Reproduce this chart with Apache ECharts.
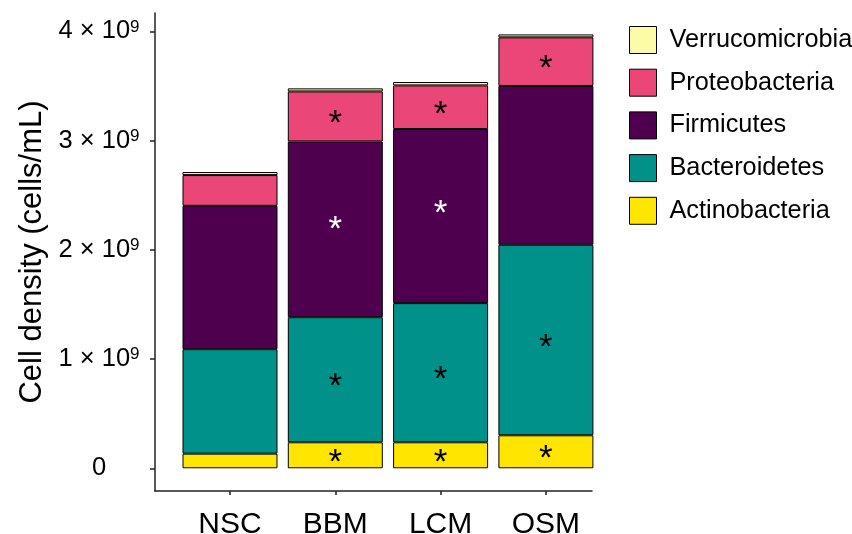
<!DOCTYPE html>
<html>
<head>
<meta charset="utf-8">
<title>Cell density by phylum</title>
<script src="https://cdn.jsdelivr.net/npm/echarts@6/dist/echarts.min.js"></script>
<style>
  html, body { margin: 0; padding: 0; background: #ffffff; }
  #chart { width: 852px; height: 534px; }
</style>
</head>
<body>
<div id="chart"></div>
<script>
// Media groups along the x axis
const categories = ['NSC', 'BBM', 'LCM', 'OSM'];

// Cell density per phylum (cells/mL), stacked bottom to top
const actinobacteria  = [0.134e9, 0.238e9, 0.238e9, 0.302e9];
const bacteroidetes   = [0.956e9, 1.145e9, 1.274e9, 1.744e9];
const firmicutes      = [1.313e9, 1.609e9, 1.594e9, 1.454e9];
const proteobacteria  = [0.281e9, 0.458e9, 0.399e9, 0.445e9];
const verrucomicrobia = [0.028e9, 0.028e9, 0.031e9, 0.027e9];

// Significance flags (drawn as asterisks inside the segment)
const sigActinobacteria  = [false, true, true, true];
const sigBacteroidetes   = [false, true, true, true];
const sigFirmicutes      = [false, true, true, false];
const sigProteobacteria  = [false, true, true, true];
const sigVerrucomicrobia = [false, false, false, false];

// Y axis ticks
const yTicks = [0, 1e9, 2e9, 3e9, 4e9];
const Y_MIN = -0.208e9;
const Y_MAX = 4.168e9;

const FONT = 'Liberation Sans, Arial, Helvetica, sans-serif';

const phyla = [
  { name: 'Actinobacteria',  values: actinobacteria,  sig: sigActinobacteria,  color: '#FFE500', star: '#000000' },
  { name: 'Bacteroidetes',   values: bacteroidetes,   sig: sigBacteroidetes,   color: '#00918A', star: '#000000' },
  { name: 'Firmicutes',      values: firmicutes,      sig: sigFirmicutes,      color: '#4E004F', star: '#ffffff' },
  { name: 'Proteobacteria',  values: proteobacteria,  sig: sigProteobacteria,  color: '#EA4778', star: '#000000' },
  { name: 'Verrucomicrobia', values: verrucomicrobia, sig: sigVerrucomicrobia, color: '#FBFBA8', star: '#000000' }
];

// Asterisk glyph sits high in its text box, so nudge it down; the white
// Firmicutes marks sit a little above the segment middle.
const STAR_DY = 8;
const firmStarDy = [0, 1, -2, 0];

const series = phyla.map(p => ({
  name: p.name,
  type: 'bar',
  stack: 'total',
  xAxisIndex: 1,
  yAxisIndex: 1,
  barWidth: 95,
  itemStyle: { color: p.color, borderColor: '#000000', borderWidth: 1 },
  emphasis: { disabled: true },
  data: p.values.map((v, i) => ({
    value: v,
    label: {
      show: p.sig[i],
      position: 'inside',
      formatter: '*',
      color: p.star,
      fontSize: 35,
      fontFamily: FONT,
      offset: [0, p.name === 'Firmicutes' ? firmStarDy[i] : STAR_DY]
    }
  }))
}));

const chart = echarts.init(document.getElementById('chart'), null, { renderer: 'canvas' });

chart.setOption({
  backgroundColor: '#ffffff',
  animation: false,
  grid: [
    // frame grid: axis lines, y ticks and title
    { left: 155, right: 260, top: 13, bottom: 43, containLabel: false, outerBoundsMode: 'none' },
    // bar grid: categories spaced to the panel
    { left: 177.35, width: 421.2, top: 13, bottom: 43, containLabel: false, outerBoundsMode: 'none' }
  ],
  legend: {
    orient: 'vertical',
    left: 629,
    top: 26,
    padding: 0,
    itemWidth: 27,
    itemHeight: 27,
    itemGap: 14.7,
    icon: 'rect',
    selectedMode: false,
    data: ['Verrucomicrobia', 'Proteobacteria', 'Firmicutes', 'Bacteroidetes', 'Actinobacteria'],
    itemStyle: { borderColor: '#000000', borderWidth: 1 },
    textStyle: { fontSize: 25.3, fontFamily: FONT, color: '#000000', padding: [0, 0, 0, 8] }
  },
  xAxis: [
    {
      gridIndex: 0,
      type: 'value',
      min: 0,
      max: 1,
      axisLine: { show: true, onZero: false, lineStyle: { color: '#222222', width: 1.5 } },
      axisTick: { show: false },
      axisLabel: { show: false },
      splitLine: { show: false }
    },
    {
      gridIndex: 1,
      type: 'category',
      data: categories,
      axisLine: { show: false, onZero: false },
      axisTick: { show: true, alignWithLabel: true, length: 4, lineStyle: { color: '#222222', width: 1.5 } },
      axisLabel: { fontSize: 30, fontFamily: FONT, color: '#000000', margin: 19 },
      splitLine: { show: false }
    }
  ],
  yAxis: [
    {
      gridIndex: 0,
      type: 'value',
      min: Y_MIN,
      max: Y_MAX,
      name: 'Cell density (cells/mL)',
      nameLocation: 'middle',
      nameGap: 98,
      nameTextStyle: { fontSize: 31, fontFamily: FONT, color: '#000000' },
      axisLine: { show: true, onZero: false, lineStyle: { color: '#222222', width: 1.5 } },
      axisTick: { show: true, length: 5, customValues: yTicks, lineStyle: { color: '#222222', width: 1.5 } },
      axisLabel: {
        customValues: yTicks,
        align: 'center',
        margin: 56,
        color: '#000000',
        formatter: v => v === 0 ? '{b|0}' : '{b|' + Math.round(v / 1e9) + ' × 10}{s|9}',
        rich: {
          b: { fontSize: 25.5, fontFamily: FONT, color: '#000000', lineHeight: 26 },
          s: { fontSize: 17, fontFamily: FONT, color: '#000000', lineHeight: 17, verticalAlign: 'top' }
        }
      },
      splitLine: { show: false }
    },
    {
      gridIndex: 1,
      type: 'value',
      min: Y_MIN,
      max: Y_MAX,
      show: false,
      splitLine: { show: false }
    }
  ],
  series: series
});
</script>
</body>
</html>
